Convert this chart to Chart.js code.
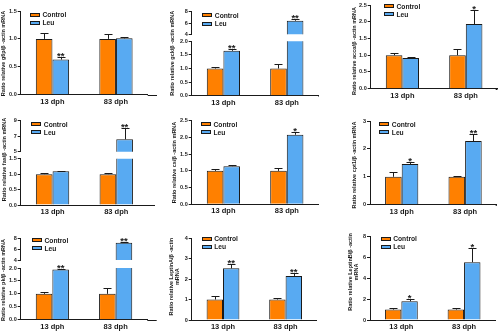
<!DOCTYPE html>
<html>
<head>
<meta charset="utf-8">
<script src="https://cdn.jsdelivr.net/npm/chart.js@4.4.1/dist/chart.umd.min.js"></script>
<style>
  html, body { margin: 0; padding: 0; background: #fff; }
  #fig { position: relative; width: 500px; height: 332px; overflow: hidden; font-family: Arial, "Liberation Sans", sans-serif; }
  #fig canvas { position: absolute; }
  .key { position: absolute; display: flex; align-items: center; height: 6px; font-size: 6.7px; font-weight: bold; color: #1a1a1a; white-space: nowrap; }
  .key i { display: inline-block; box-sizing: border-box; width: 10px; height: 4px; border: 1px solid #1a1a1a; margin-right: 2.5px; }
</style>
</head>
<body>
<div id="fig"></div>
<script>
// Relative mRNA expression, Control vs Leu, at 13 and 83 dph (mean, SEM, significance)
const DAYS = ['13 dph', '83 dph'];
const GROUPS = ['Control', 'Leu'];

const G6P_CTRL = [1.0, 1.0],   G6P_CTRL_SEM = [0.11, 0.08];
const G6P_LEU = [0.63, 1.01],  G6P_LEU_SEM = [0.04, 0.02],  G6P_STARS = ['**', ''];
const G6P_TICKS = [0, 0.5, 1.0, 1.5];

const GCK_CTRL = [1.0, 1.0],   GCK_CTRL_SEM = [0.06, 0.15];
const GCK_LEU = [1.65, 6.4],   GCK_LEU_SEM = [0.07, 0.35],  GCK_STARS = ['**', '**'];
const GCK_TICKS_LOW = [0, 0.5, 1.0, 1.5, 2.0];
const GCK_TICKS_HIGH = [4, 5, 6, 7, 8];

const ACC_CTRL = [1.0, 1.0],   ACC_CTRL_SEM = [0.07, 0.18];
const ACC_LEU = [0.92, 1.93],  ACC_LEU_SEM = [0.03, 0.42],  ACC_STARS = ['', '*'];
const ACC_TICKS = [0, 0.5, 1.0, 1.5, 2.0, 2.5];

const FAS_CTRL = [1.0, 1.0],   FAS_CTRL_SEM = [0.03, 0.05];
const FAS_LEU = [1.09, 6.6],   FAS_LEU_SEM = [0.02, 1.4],   FAS_STARS = ['', '**'];
const FAS_TICKS_LOW = [0, 0.5, 1.0, 1.5];
const FAS_TICKS_HIGH = [5, 6, 7, 8, 9];

const CS_CTRL = [1.0, 1.0],    CS_CTRL_SEM = [0.06, 0.1];
const CS_LEU = [1.14, 2.08],   CS_LEU_SEM = [0.04, 0.08],   CS_STARS = ['', '*'];
const CS_TICKS = [0, 0.5, 1.0, 1.5, 2.0, 2.5];

const CPT1_CTRL = [1.0, 1.0],  CPT1_CTRL_SEM = [0.16, 0.02];
const CPT1_LEU = [1.46, 2.28], CPT1_LEU_SEM = [0.07, 0.24], CPT1_STARS = ['*', '**'];
const CPT1_TICKS = [0, 1, 2, 3];

const PK_CTRL = [1.0, 1.0],    PK_CTRL_SEM = [0.06, 0.21];
const PK_LEU = [1.94, 7.2],    PK_LEU_SEM = [0.03, 0.17],   PK_STARS = ['**', '**'];
const PK_TICKS_LOW = [0, 0.5, 1.0, 1.5, 2.0];
const PK_TICKS_HIGH = [4, 5, 6, 7, 8];

const LEPA_CTRL = [1.0, 1.0],  LEPA_CTRL_SEM = [0.17, 0.08];
const LEPA_LEU = [2.52, 2.15], LEPA_LEU_SEM = [0.2, 0.13],  LEPA_STARS = ['**', '**'];
const LEPA_TICKS = [0, 1, 2, 3, 4];

const LEPB_CTRL = [1.0, 1.0],  LEPB_CTRL_SEM = [0.12, 0.12];
const LEPB_LEU = [1.8, 5.55],  LEPB_LEU_SEM = [0.22, 1.4],  LEPB_STARS = ['*', '*'];
const LEPB_TICKS = [0, 2, 4, 6, 8];

const ORANGE = '#ff8000';
const BLUE = '#58aaf2';
const INK = '#1a1a1a';
const FONT = 'Arial, "Liberation Sans", sans-serif';

// box: [left, top, width, height]; segs: y ranges drawn bottom first (two = broken axis)
const PANELS = [
  { ctrl: G6P_CTRL, ctrlSem: G6P_CTRL_SEM, leu: G6P_LEU, leuSem: G6P_LEU_SEM, stars: G6P_STARS,
    box: [0, 0, 165, 110], axisX: 20.7, step: 63.5, xEnd: 157,
    segs: [{ ticks: G6P_TICKS, dp: 1, top: 11, bottom: 94.7 }],
    title: { lines: ['Ratio relative g6p/β -actin mRNA'], x: [3.8], y: 53.5 }, key: [30, 12.7] },
  { ctrl: GCK_CTRL, ctrlSem: GCK_CTRL_SEM, leu: GCK_LEU, leuSem: GCK_LEU_SEM, stars: GCK_STARS,
    box: [165, 0, 165, 110], axisX: 191.7, step: 63.4, xEnd: 318,
    segs: [{ ticks: GCK_TICKS_LOW, dp: 1, top: 41.3, bottom: 95.7 },
           { ticks: GCK_TICKS_HIGH, dp: 0, top: 11.7, bottom: 34.3 }],
    title: { lines: ['Ratio relative gck/β -actin mRNA'], x: [172.5], y: 53.3 }, key: [202.3, 13.3] },
  { ctrl: ACC_CTRL, ctrlSem: ACC_CTRL_SEM, leu: ACC_LEU, leuSem: ACC_LEU_SEM, stars: ACC_STARS,
    box: [330, 0, 170, 110], axisX: 370.7, step: 63.4, xEnd: 495.7,
    segs: [{ ticks: ACC_TICKS, dp: 1, top: 5, bottom: 88.7 }],
    title: { lines: ['Ratio relative accα/β -actin mRNA'], x: [354.7], y: 51 }, key: [384, 4] },
  { ctrl: FAS_CTRL, ctrlSem: FAS_CTRL_SEM, leu: FAS_LEU, leuSem: FAS_LEU_SEM, stars: FAS_STARS,
    box: [0, 110, 165, 110], axisX: 20.7, step: 63.7, xEnd: 155,
    segs: [{ ticks: FAS_TICKS_LOW, dp: 1, top: 158.7, bottom: 205 },
           { ticks: FAS_TICKS_HIGH, dp: 0, top: 120.7, bottom: 151.7 }],
    title: { lines: ['Ratio relative fas/β -actin mRNA'], x: [4], y: 159.5 }, key: [31.3, 122] },
  { ctrl: CS_CTRL, ctrlSem: CS_CTRL_SEM, leu: CS_LEU, leuSem: CS_LEU_SEM, stars: CS_STARS,
    box: [165, 110, 165, 110], axisX: 191.7, step: 63.4, xEnd: 318,
    segs: [{ ticks: CS_TICKS, dp: 1, top: 120.7, bottom: 204.3 }],
    title: { lines: ['Ratio relative cs/β -actin mRNA'], x: [174.3], y: 162.5 }, key: [201, 122] },
  { ctrl: CPT1_CTRL, ctrlSem: CPT1_CTRL_SEM, leu: CPT1_LEU, leuSem: CPT1_LEU_SEM, stars: CPT1_STARS,
    box: [330, 110, 170, 110], axisX: 370, step: 63.4, xEnd: 495.7,
    segs: [{ ticks: CPT1_TICKS, dp: 0, top: 121, bottom: 204.7 }],
    title: { lines: ['Ratio relative cpt1/β -actin mRNA'], x: [354], y: 165 }, key: [379.3, 122] },
  { ctrl: PK_CTRL, ctrlSem: PK_CTRL_SEM, leu: PK_LEU, leuSem: PK_LEU_SEM, stars: PK_STARS,
    box: [0, 220, 165, 112], axisX: 20.7, step: 63.3, xEnd: 156.7,
    segs: [{ ticks: PK_TICKS_LOW, dp: 1, top: 268, bottom: 319.7 },
           { ticks: PK_TICKS_HIGH, dp: 0, top: 238.3, bottom: 260 }],
    title: { lines: ['Ratio relative pk/β -actin mRNA'], x: [3.5], y: 280 }, key: [32, 238] },
  { ctrl: LEPA_CTRL, ctrlSem: LEPA_CTRL_SEM, leu: LEPA_LEU, leuSem: LEPA_LEU_SEM, stars: LEPA_STARS,
    box: [165, 220, 165, 112], axisX: 191.7, step: 62.6, xEnd: 316.7,
    segs: [{ ticks: LEPA_TICKS, dp: 0, top: 238, bottom: 320 }],
    title: { lines: ['Ratio relative LeptinA/β -actin', 'mRNA'], x: [171, 177], y: 276.7 }, key: [201.7, 236.7] },
  { ctrl: LEPB_CTRL, ctrlSem: LEPB_CTRL_SEM, leu: LEPB_LEU, leuSem: LEPB_LEU_SEM, stars: LEPB_STARS,
    box: [330, 220, 170, 112], axisX: 370, step: 62.7, xEnd: 495.7,
    segs: [{ ticks: LEPB_TICKS, dp: 0, top: 236.7, bottom: 320 }],
    title: { lines: ['Ratio relative LeptinB/β -actin', 'mRNA'], x: [350, 356], y: 272 }, key: [380.7, 236.7] },
];

// error caps, significance stars, x-axis tail and rotated y title
const panelExtras = {
  id: 'panelExtras',
  afterDatasetsDraw(chart, args, opts) {
    const { ctx, chartArea, scales: { y } } = chart;
    ctx.save();
    ctx.strokeStyle = INK;
    ctx.fillStyle = INK;
    ctx.lineWidth = 1;
    chart.data.datasets.forEach((ds, i) => {
      chart.getDatasetMeta(i).data.forEach((bar, j) => {
        const v = ds.data[j];
        if (v > y.max || v < y.min) return;
        const x = Math.round(bar.x) + 0.5;
        const top = Math.round(y.getPixelForValue(v + ds.errors[j])) + 0.5;
        ctx.beginPath();
        ctx.moveTo(x, bar.y);
        ctx.lineTo(x, top);
        ctx.moveTo(x - 4, top);
        ctx.lineTo(x + 4, top);
        ctx.stroke();
        if (ds.stars[j]) {
          ctx.font = `bold 9.5px ${FONT}`;
          ctx.textAlign = 'center';
          ctx.textBaseline = 'alphabetic';
          ctx.fillText(ds.stars[j], bar.x, top + 1);
        }
      });
    });
    if (opts.xEnd) {
      const yb = Math.round(chartArea.bottom) + 0.5;
      ctx.beginPath();
      ctx.moveTo(chartArea.right, yb);
      ctx.lineTo(opts.xEnd, yb);
      ctx.stroke();
    }
    if (opts.title) {
      ctx.font = `bold 5.5px ${FONT}`;
      ctx.textAlign = 'center';
      ctx.textBaseline = 'middle';
      opts.title.lines.forEach((line, k) => {
        ctx.save();
        ctx.translate(opts.title.x[k], opts.title.y);
        ctx.rotate(-Math.PI / 2);
        ctx.fillText(line, 0, 0);
        ctx.restore();
      });
    }
    ctx.restore();
  },
};

function addCanvas(box) {
  const c = document.createElement('canvas');
  c.width = box[2];
  c.height = box[3];
  c.style.left = box[0] + 'px';
  c.style.top = box[1] + 'px';
  c.style.width = box[2] + 'px';
  c.style.height = box[3] + 'px';
  document.getElementById('fig').appendChild(c);
  return c;
}

function drawSegment(p, seg, lowest) {
  const [bx, by, W, H] = p.box;
  const canvas = addCanvas(p.box);
  const plotRight = p.axisX - bx + 2 * p.step;
  const bottomGap = H - (seg.bottom - by);
  return new Chart(canvas, {
    type: 'bar',
    data: {
      labels: DAYS,
      datasets: [
        { label: GROUPS[0], data: p.ctrl, errors: p.ctrlSem, stars: ['', ''],
          backgroundColor: ORANGE, borderColor: INK, borderWidth: 1, clip: 0 },
        { label: GROUPS[1], data: p.leu, errors: p.leuSem, stars: p.stars,
          backgroundColor: BLUE, borderColor: INK, borderWidth: 1, clip: 0 },
      ],
    },
    plugins: [panelExtras],
    options: {
      responsive: false,
      animation: false,
      events: [],
      layout: { padding: { top: seg.top - by, right: W - plotRight, left: 0, bottom: lowest ? 0 : bottomGap } },
      datasets: { bar: { categoryPercentage: 0.524, barPercentage: 1 } },
      plugins: {
        legend: { display: false },
        tooltip: { enabled: false },
        panelExtras: {
          xEnd: lowest ? p.xEnd - bx : null,
          title: lowest ? { lines: p.title.lines, x: p.title.x.map(v => v - bx), y: p.title.y - by } : null,
        },
      },
      scales: {
        x: {
          display: lowest,
          grid: { display: false, drawTicks: false },
          border: { display: true, color: INK, width: 1 },
          ticks: { color: INK, font: { family: FONT, size: 7.5, weight: 'bold' }, padding: 2.5, maxRotation: 0, autoSkip: false },
          afterFit: s => { s.height = lowest ? bottomGap : 0; },
        },
        y: {
          min: seg.ticks[0],
          max: seg.ticks[seg.ticks.length - 1],
          afterBuildTicks: s => { s.ticks = seg.ticks.map(value => ({ value })); },
          afterFit: s => { s.width = p.axisX - bx; },
          grid: { drawOnChartArea: false, drawTicks: true, tickLength: 3, color: INK, lineWidth: 1 },
          border: { display: true, color: INK, width: 1 },
          ticks: { color: INK, font: { family: FONT, size: 5.5, weight: 'bold' }, padding: 1,
                   callback: v => Number(v).toFixed(seg.dp) },
        },
      },
    },
  });
}

function drawKey(p) {
  const fig = document.getElementById('fig');
  [ORANGE, BLUE].forEach((color, k) => {
    const row = document.createElement('div');
    row.className = 'key';
    row.style.left = p.key[0] + 'px';
    row.style.top = (p.key[1] - 1 + k * 8.2) + 'px';
    row.innerHTML = `<i style="background:${color}"></i>${GROUPS[k]}`;
    fig.appendChild(row);
  });
}

PANELS.forEach(p => {
  p.segs.forEach((seg, k) => drawSegment(p, seg, k === 0));
  drawKey(p);
});
</script>
</body>
</html>
